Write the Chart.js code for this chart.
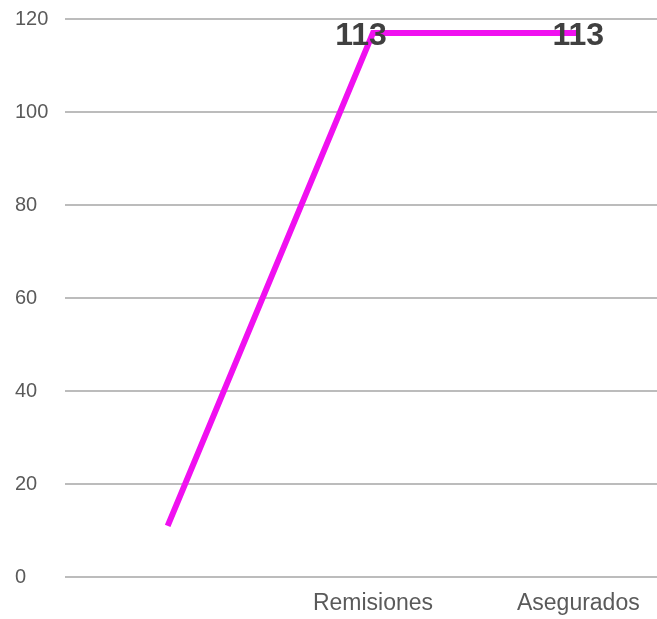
<!DOCTYPE html>
<html>
<head>
<meta charset="utf-8">
<script src="https://cdn.jsdelivr.net/npm/chart.js@4"></script>
<style>
    html, body { margin: 0; padding: 0; background: #fff; overflow: hidden; }
    #wrap { width: 690px; height: 619px; }
</style>
</head>
<body>
<div id="wrap"><canvas id="chart"></canvas></div>
<script>
// Data
const categories = ['', 'Remisiones', 'Asegurados'];
const values = [11, 117, 117];
const valueLabels = ['', '113', '113'];
const yTicks = [0, 20, 40, 60, 80, 100, 120];

// Value labels drawn over the line
const valueLabelPlugin = {
    id: 'valueLabels',
    afterDatasetsDraw(chart) {
        const ctx = chart.ctx;
        const meta = chart.getDatasetMeta(0);
        ctx.save();
        ctx.font = 'bold 32px "Liberation Sans", Arial, sans-serif';
        ctx.fillStyle = '#404040';
        ctx.textAlign = 'center';
        ctx.textBaseline = 'middle';
        meta.data.forEach((pt, i) => {
            if (!valueLabels[i]) return;
            const dx = i === 1 ? -12 : 0;
            ctx.fillText(valueLabels[i], pt.x + dx, pt.y + 3);
        });
        ctx.restore();
    }
};

new Chart(document.getElementById('chart'), {
    type: 'line',
    data: {
        labels: categories,
        datasets: [{
            data: values,
            borderColor: '#f010f0',
            borderWidth: 6,
            borderCapStyle: 'butt',
            pointRadius: 0,
            tension: 0,
            fill: false,
        }]
    },
    options: {
        responsive: true,
        maintainAspectRatio: false,
        animation: false,
        layout: { padding: { left: 15, top: 19, right: 9, bottom: 0 } },
        plugins: {
            legend: { display: false },
            tooltip: { enabled: false }
        },
        scales: {
            x: {
                offset: true,
                border: { display: false },
                grid: { display: false, drawTicks: false },
                ticks: {
                    color: '#5a5a5a',
                    font: { family: '"Liberation Sans", Arial, sans-serif', size: 23 },
                    padding: 13,
                    maxRotation: 0,
                    autoSkip: false
                },
                afterFit(scale) { scale.height = 42; }
            },
            y: {
                min: 0,
                max: 120,
                afterBuildTicks(scale) { scale.ticks = yTicks.map(v => ({ value: v })); },
                border: { display: false },
                grid: { color: '#bcbcbc', lineWidth: 2, drawTicks: false },
                ticks: {
                    color: '#5a5a5a',
                    crossAlign: 'far',
                    font: { family: '"Liberation Sans", Arial, sans-serif', size: 20 },
                    padding: 0
                },
                afterFit(scale) { scale.width = 50; }
            }
        }
    },
    plugins: [valueLabelPlugin]
});
</script>
</body>
</html>
